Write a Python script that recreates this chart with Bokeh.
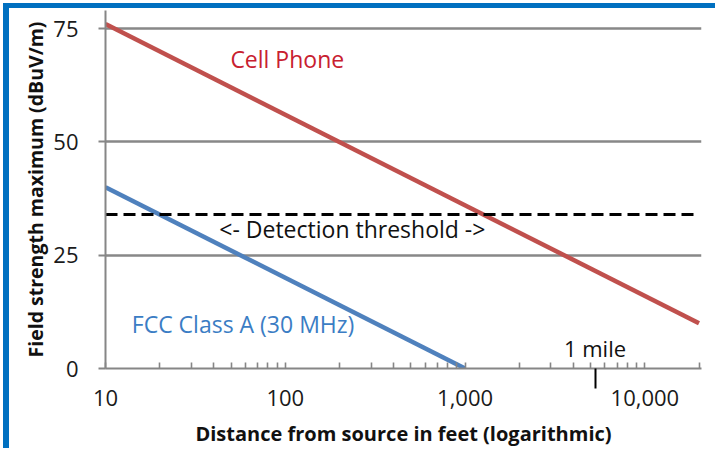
from bokeh.plotting import figure
from bokeh.models import (FixedTicker, NumeralTickFormatter, Range1d, LogAxis,
                          ColumnDataSource, CustomJSTickFormatter)
from bokeh.core.properties import value
from bokeh.embed import file_html
from bokeh.resources import INLINE

# ---- data ----
cell_distance = [10, 20000]
cell_field = [76, 10]
fcc_distance = [10, 1000]
fcc_field = [40, 0]
threshold_distance = [10, 20000]
threshold_field = [34, 34]
mile_feet = [5280]

x_major_ticks = [10, 100, 1000, 10000]
x_minor_ticks = [20, 30, 40, 50, 60, 70, 80, 90,
                 200, 300, 400, 500, 600, 700, 800, 900,
                 2000, 3000, 4000, 5000, 6000, 7000, 8000, 9000, 20000]
y_ticks = [0, 25, 50, 75]

label_texts = ["Cell Phone", "FCC Class A (30 MHz)", "<- Detection threshold ->"]
label_x = [49.5, 14, 236]
label_y = [68.2, 9.9, 30.7]
label_colors = ["#C8202F", "#3B7DC4", "#111111"]
label_align = ["left", "left", "center"]

mile_text = ["1 mile"]
mile_y = [4.6]

FONT = "Open Sans"
GRAY = "#868686"

p = figure(width=712, height=445, x_axis_type="log",
           x_range=Range1d(10, 20650), y_range=Range1d(0, 79),
           output_backend="svg", toolbar_location=None,
           min_border_left=96, min_border_right=20,
           min_border_top=2, min_border_bottom=85)
p.styles = {"margin-left": "3px", "margin-top": "3px",
            "border-left": "6px solid #0070C0", "border-top": "5px solid #0070C0"}
p.outline_line_color = None
p.background_fill_color = "white"
p.border_fill_color = "white"

# grid
p.xgrid.visible = False
p.ygrid.ticker = FixedTicker(ticks=y_ticks)
p.ygrid.grid_line_color = "#888888"
p.ygrid.grid_line_width = 2.5

# x axis line + ticks (nearest the frame): gray line, inward ticks,
# one long black tick hanging down at 1 mile
tick_axis = LogAxis(ticker=FixedTicker(ticks=mile_feet,
                                       minor_ticks=x_major_ticks + x_minor_ticks),
                    formatter=CustomJSTickFormatter(code="return ''"),
                    axis_line_color=GRAY, axis_line_width=2,
                    major_tick_line_color="black", major_tick_line_width=2,
                    major_tick_in=0, major_tick_out=20,
                    minor_tick_line_color=GRAY, minor_tick_line_width=1.6,
                    minor_tick_in=6, minor_tick_out=0,
                    major_label_text_font_size="0px", major_label_standoff=0)

# x axis labels (below)
xa = p.xaxis[0]
xa.ticker = FixedTicker(ticks=x_major_ticks)
xa.formatter = NumeralTickFormatter(format="0,0")
xa.axis_line_color = None
xa.major_tick_line_color = None
xa.minor_tick_line_color = None
xa.major_tick_in = 0
xa.major_tick_out = 0
xa.minor_tick_in = 0
xa.minor_tick_out = 0
xa.major_label_text_font = FONT
xa.major_label_text_font_size = "22px"
xa.major_label_text_color = "#1a1a1a"
xa.major_label_standoff = 1
xa.axis_label = "Distance from source in feet (logarithmic)"
xa.axis_label_text_font = FONT
xa.axis_label_text_font_style = "bold"
xa.axis_label_text_font_size = "20px"
xa.axis_label_text_color = "#111111"
xa.axis_label_standoff = 11

p.below = [tick_axis, xa]

# y axis
ya = p.yaxis[0]
ya.ticker = FixedTicker(ticks=y_ticks)
ya.axis_line_color = GRAY
ya.axis_line_width = 2
ya.major_tick_line_color = GRAY
ya.major_tick_line_width = 2
ya.major_tick_in = 0
ya.major_tick_out = 7
ya.minor_tick_out = 0
ya.minor_tick_in = 0
ya.major_label_text_font = FONT
ya.major_label_text_font_size = "22px"
ya.major_label_text_color = "#1a1a1a"
ya.major_label_standoff = 20
ya.axis_label = "Field strength maximum (dBuV/m)"
ya.axis_label_text_font = FONT
ya.axis_label_text_font_style = "bold"
ya.axis_label_text_font_size = "19.5px"
ya.axis_label_text_color = "#111111"
ya.axis_label_standoff = 1

# series
p.line(cell_distance, cell_field, line_color="#C0504D", line_width=4.5)
p.line(fcc_distance, fcc_field, line_color="#4F81BD", line_width=4.5)
p.line(threshold_distance, threshold_field, line_color="black", line_width=3,
       line_dash="12 6")

# labels
src = ColumnDataSource(dict(x=label_x, y=label_y, t=label_texts,
                            c=label_colors, a=label_align))
p.text(x="x", y="y", text="t", text_color="c", text_align="a", source=src,
       text_font=value(FONT), text_font_size="23px", text_baseline="alphabetic")

p.text(x=mile_feet, y=mile_y, text=mile_text, text_color="#111111",
       text_align="center", text_baseline="alphabetic",
       text_font=value(FONT), text_font_size="22px")

open("out.html", "w").write(file_html(p, INLINE))
